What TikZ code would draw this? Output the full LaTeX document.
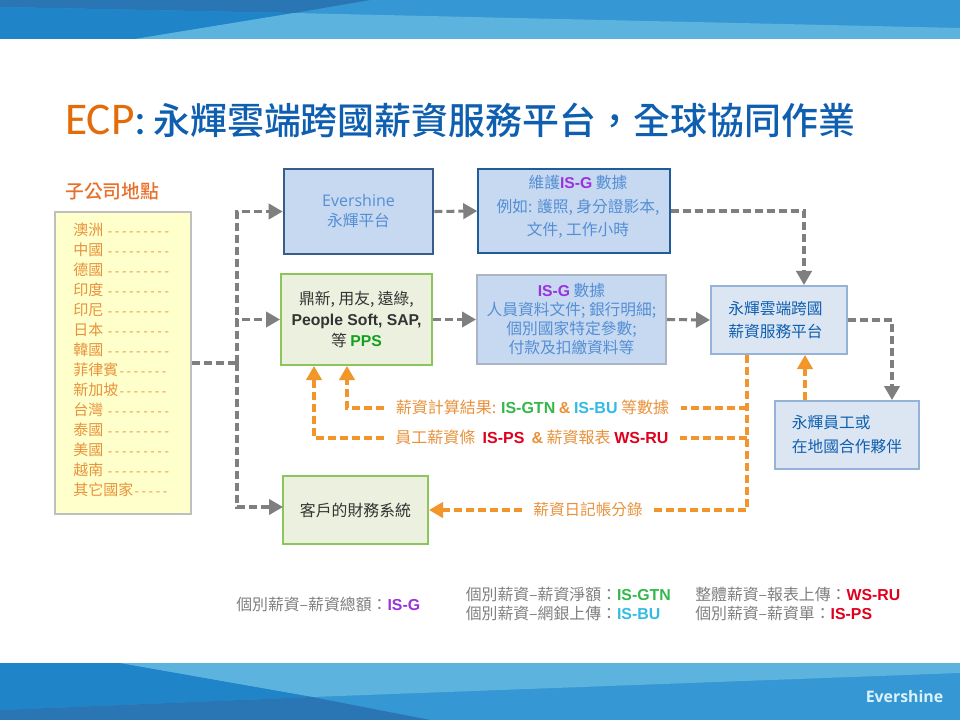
\documentclass[tikz,border=0pt]{standalone}
\usepackage{fontspec}
\usepackage{xcolor}
\setmainfont{Noto Sans CJK TC}
\setsansfont{Liberation Sans}
\newfontfamily\ecpfont{Carlito}
\newfontfamily\dashfont{Liberation Mono}
\newfontfamily\brandfont{Open Sans}
\newfontfamily\headfont{Noto Sans CJK TC Medium}
\usetikzlibrary{arrows.meta}
\definecolor{bandbase}{HTML}{3597D3}
\definecolor{banddark}{HTML}{2A75B3}
\definecolor{bandmid}{HTML}{1F85C8}
\definecolor{bandlight}{HTML}{5CB3DD}
\definecolor{titleblue}{HTML}{0F5FB0}
\definecolor{titleorange}{HTML}{E36C0A}
\definecolor{headorange}{HTML}{E8702A}
\definecolor{sitetext}{HTML}{E8923C}
\definecolor{softblue}{HTML}{558ED5}
\definecolor{linegray}{HTML}{7F7F7F}
\definecolor{lineorange}{HTML}{F0962D}
\definecolor{tiporange}{HTML}{F79A1C}
\definecolor{ispurple}{HTML}{9B33DD}
\definecolor{isgreen}{HTML}{33B84A}
\definecolor{iscyan}{HTML}{33BBE3}
\definecolor{isred}{HTML}{E0001E}
\definecolor{ppsgreen}{HTML}{12A01E}
\definecolor{sitefill}{HTML}{FFFFCC}
\definecolor{siteedge}{HTML}{BFBFBF}
\definecolor{softfill}{HTML}{C6D9F1}
\definecolor{platedge}{HTML}{385D8A}
\definecolor{upkeepedge}{HTML}{1F5C99}
\definecolor{isgedge}{HTML}{A9B4C4}
\definecolor{greenfill}{HTML}{EBF1DE}
\definecolor{greenedge}{HTML}{8CC65A}
\definecolor{cloudfill}{HTML}{DCE6F2}
\definecolor{cloudedge}{HTML}{95B3D7}
\definecolor{darktext}{HTML}{333333}
\newcommand{\code}[2]{{\color{#1}\sffamily\bfseries #2}}
\tikzset{
  boxsize/.style 2 args={minimum width=#1*0.75pt, minimum height=#2*0.75pt, inner sep=0pt},
  bodyfont/.style={font=\fontsize{11.8}{14.25}\selectfont, align=center},
  sitebox/.style={draw=siteedge, fill=sitefill, line width=1.5pt},
  platbox/.style={draw=platedge, fill=softfill, line width=2pt},
  softbox/.style={fill=softfill, text=softblue, bodyfont},
  greenbox/.style={draw=greenedge, fill=greenfill, line width=1.5pt, text=darktext, bodyfont},
  cloudbox/.style={draw=cloudedge, fill=cloudfill, line width=1.5pt, text=titleblue, bodyfont},
  grayline/.style={draw=linegray, line width=2.3pt, dash pattern=on 6pt off 3pt},
  grayarrow/.style={grayline, -{Triangle[length=10.5pt,width=11.5pt,fill=linegray]}},
  orangeline/.style={draw=lineorange, line width=2.3pt, dash pattern=on 6pt off 3pt},
  orangearrow/.style={orangeline, -{Triangle[length=10.5pt,width=11.5pt,fill=tiporange]}},
  flowlab/.style={text=sitetext, font=\fontsize{12}{13}\selectfont, inner xsep=8.5pt, inner ysep=0pt, text height=9pt, text depth=1pt},
  keylab/.style={anchor=west, text=linegray, inner sep=0pt, font=\fontsize{11.9}{13}\selectfont, text height=9pt, text depth=1pt},
}
\begin{document}
\begin{tikzpicture}[x=0.75pt,y=-0.75pt]
  \useasboundingbox (0,0) rectangle (960,720);
  \fill[white] (0,0) rectangle (960,720);
  % top band
  \fill[bandbase] (0,0) rectangle (960,39);
  \fill[banddark] (0,0) -- (370,0) -- (294,13) -- (0,7) -- cycle;
  \fill[bandmid] (0,7) -- (294,13) -- (135,39) -- (0,39) -- cycle;
  \fill[bandlight] (294,13) -- (960,28) -- (960,39) -- (135,39) -- cycle;
  % bottom band
  \fill[bandbase] (0,663) rectangle (960,720);
  \fill[bandlight] (119,663) -- (960,663) -- (960,673) -- (312,697) -- cycle;
  \fill[bandmid] (0,663) -- (119,663) -- (312,697) -- (0,710) -- cycle;
  \fill[banddark] (0,710) -- (312,697) -- (430,720) -- (0,720) -- cycle;
  \node[text=white!85!cyan, font=\brandfont\fontsize{11.9}{13}\selectfont\bfseries] (brand) at (904.5,697) {Evershine};

  \node[anchor=west, inner sep=0pt, font=\headfont\fontsize{27.7}{30}\selectfont] (title) at (65,120)
    {{\ecpfont\fontsize{34}{35}\selectfont\color{titleorange}ECP\color{titleblue}:\kern5pt}\color{titleblue}永輝雲端跨國薪資服務平台，全球協同作業};
  \node[anchor=west, inner sep=0pt, text=headorange, font=\headfont\fontsize{14.1}{16}\selectfont] (sitehead) at (65,191) {子公司地點};

  % boxes
  \node[sitebox, boxsize={136}{302}] (sites) at (123,363) {};
  \foreach \place/\dashrun [count=\i] in {澳洲~/---------,中國~/---------,德國~/---------,印度~/---------,印尼~/---------,日本~/---------,韓國~/---------,菲律賓/-------,新加坡/-------,台灣~/---------,泰國~/---------,美國~/---------,越南~/---------,其它國家/-----}
    \node[anchor=west, inner sep=0pt, text=sitetext, font=\fontsize{11.25}{13}\selectfont] (row\i) at (73,{210+20*\i}) {\place{\dashfont\fontsize{8.85}{10}\selectfont\dashrun}};

  \node[platbox, boxsize={149}{85}, text=softblue, bodyfont, font=\fontsize{11.8}{15}\selectfont] (evershine) at (358.5,211.5) {{\brandfont\fontsize{12}{15}\selectfont Evershine}\\永輝平台};
  \node[softbox, draw=upkeepedge, line width=1.1pt, boxsize={192}{84}] (upkeep) at (574,211) {};
  \node[text=softblue, bodyfont, inner sep=0pt, font=\fontsize{11.8}{17.5}\selectfont] (upkeeptxt) at (578,207)
    {維護\code{ispurple}{IS-G} 數據\\例如: 護照, 身分證影本,\\文件, 工作小時};
  \node[greenbox, boxsize={151}{91}, font=\fontsize{11.8}{15.75}\selectfont] (pps) at (356.5,319.5)
    {鼎新, 用友, 遠綠,\\\code{darktext}{People Soft, SAP,}\\等 \code{ppsgreen}{PPS}};
  \node[softbox, draw=isgedge, line width=1.5pt, boxsize={189}{89}] (isg) at (571.5,319.5)
    {\code{ispurple}{IS-G} 數據\\人員資料文件; 銀行明細;\\個別國家特定參數;\\付款及扣繳資料等};
  \node[cloudbox, boxsize={136}{68}] (cloud) at (779,320) {};
  \node[text=titleblue, bodyfont, inner sep=0pt, font=\fontsize{11.8}{17.25}\selectfont] (cloudtxt) at (775.5,320) {永輝雲端跨國\\薪資服務平台};
  \node[cloudbox, boxsize={144}{68}, align=left, font=\fontsize{11.8}{18}\selectfont] (staff) at (847,435) {永輝員工或\\在地國合作夥伴};
  \node[greenbox, boxsize={145}{68}, font=\fontsize{11.9}{14}\selectfont] (client) at (355.5,510) {客戶的財務系統};

  % labels in the flow
  \node[flowlab] (result) at (532.5,408) {薪資計算結果: \code{isgreen}{IS-GTN}~\code{sitetext}{\&}~\code{iscyan}{IS-BU}~等數據};
  \node[flowlab] (slip) at (532,438) {員工薪資條~~\code{isred}{IS-PS}~~\code{sitetext}{\&}~薪資報表~\code{isred}{WS-RU}};
  \node[flowlab, font=\fontsize{11.7}{13}\selectfont] (journal) at (588,510) {薪資日記帳分錄};

  % gray connectors
  \coordinate (trunkOut) at (237,363);
  \coordinate (clientIn) at (283,507);
  \coordinate (cloudTop) at (804,285);
  \coordinate (staffTop) at (892,400);
  \draw[grayline] (sites.east) -- (trunkOut);
  \draw[grayarrow] (trunkOut) |- (evershine.west);
  \draw[grayarrow] (trunkOut) |- (pps.west);
  \draw[grayarrow] (trunkOut) |- (clientIn);
  \draw[grayarrow] (evershine.east) -- (upkeep.west);
  \draw[grayarrow] (upkeep.east) -| (cloudTop);
  \draw[grayarrow] (pps.east) -- (isg.west);
  \draw[grayarrow] (isg.east) -- (cloud.west);
  \draw[grayarrow] (cloud.east) -| (staffTop);

  % orange connectors
  \coordinate (cloudOut) at (747,355);
  \coordinate (staffOut) at (805,400);
  \coordinate (cloudIn) at (805,355);
  \coordinate (resultTap) at (747,408);
  \coordinate (slipTap) at (747,438);
  \coordinate (resultIn) at (347,366);
  \coordinate (slipIn) at (314,366);
  \draw[orangearrow] (staffOut) -- (cloudIn);
  \draw[orangeline] (cloudOut) |- (journal.east);
  \draw[orangeline] (resultTap) -- (result.east);
  \draw[orangeline] (slipTap) -- (slip.east);
  \draw[orangearrow] (result.west) -| (resultIn);
  \draw[orangearrow] (slip.west) -| (slipIn);
  \draw[orangearrow] (journal.west) -- (client.east);

  % key
  \node[keylab] (keyG) at (236,605) {個別薪資–薪資總額：\code{ispurple}{IS-G}};
  \node[keylab] (keyGtn) at (465.5,595) {個別薪資–薪資淨額：\code{isgreen}{IS-GTN}};
  \node[keylab] (keyBu) at (465.5,614) {個別薪資–網銀上傳：\code{iscyan}{IS-BU}};
  \node[keylab] (keyRu) at (695,595) {整體薪資–報表上傳：\code{isred}{WS-RU}};
  \node[keylab] (keyPs) at (695,614) {個別薪資–薪資單：\code{isred}{IS-PS}};
\end{tikzpicture}
\end{document}
